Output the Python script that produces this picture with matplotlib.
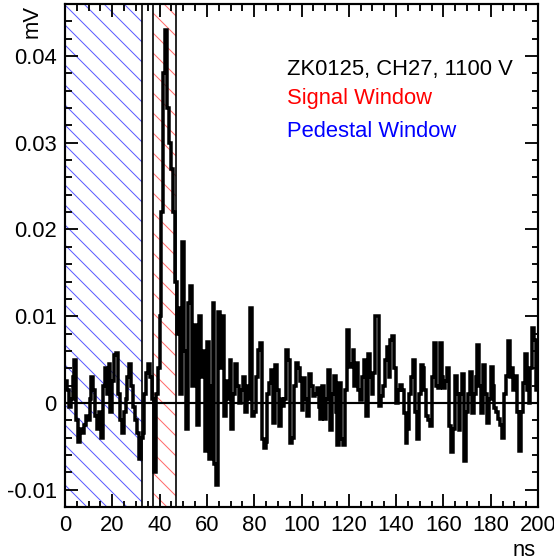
import numpy as np
import matplotlib
matplotlib.use('Agg')
import matplotlib.pyplot as plt
from matplotlib.ticker import MultipleLocator, FuncFormatter

# waveform, 0.8 ns bins, values in units of 1e-3 mV
bin_width = 0.8
trace_0_33 = [2.5, 1.5, -0.5, 0.5, 3.0, 5.0, -2.0, -4.5, -3.0, -3.5,
              -2.5, -1.5, -2.0, 0.5, 3.0, 1.5, -1.5, -3.0, -1.0, -4.0,
              2.0, 4.0, 1.0, 4.5, -1.0, 2.5, 5.5, 5.8, 1.0, -2.0,
              -3.5, -1.0, 0.5, 3.0, 4.5, 2.0, -0.5, -2.0, -3.5, -6.5,
              -4.0]
trace_33_48 = [-3.5, 1.0, 3.5, 4.5, 3.0, 0.5, -8.0, 1.0, 4.0, 10.0,
               22.0, 38.0, 43.0, 34.0, 30.0, 27.0, 22.0, 14.0, 8.0]
trace_48_80 = [11.0, 1.0, 18.5, 6.0, -3.0, 11.5, 13.5, 2.0, 9.0, 5.0,
               -2.5, 10.0, 3.0, 6.0, -5.5, 7.0, -6.5, 2.0, 11.5, -7.0,
               -9.5, 10.5, 4.0, 10.0, -1.5, 2.5, 0.5, 5.0, -3.0, 1.0,
               4.5, 2.0, 0.0, 1.5, 3.0, -1.0, 2.0, 0.5, 11.0, -1.5]
trace_80_200 = [-1.1, 3.0, 6.1, 6.9, -4.2, -5.2, -4.5, 1.0, 2.3, 3.8,
                -2.3, 4.4, 1.5, -2.7, 0.5, -0.3, 0.5, 6.1, 5.0, -4.6,
                -4.0, 2.0, 4.6, 4.0, 2.5, -0.8, 2.9, 0.5, -1.5, 3.3,
                2.0, 0.8, 1.0, 1.7, -0.5, -1.9, 2.0, -1.9, 0.5, 3.8,
                -3.1, 1.0, 3.1, -1.0, -4.8, 2.3, -4.2, -4.8, 1.5, 8.4,
                4.2, 4.5, 6.1, 2.0, 4.6, 1.5, 0.3, 3.0, 5.0, -1.5,
                5.6, 3.0, 1.0, 3.5, 10.0, 10.0, -0.4, 0.8, 2.0, 5.0,
                6.5, 3.0, 7.3, 7.7, 4.0, 0.0, 1.5, 2.1, 1.5, -1.2,
                -4.6, -3.0, 1.0, 3.0, 5.0, -1.0, -4.2, 1.0, 4.4, 4.0,
                1.5, -1.5, -2.0, -2.7, 3.0, 6.9, 2.0, 1.7, 6.9, 3.0,
                1.7, 2.5, 4.0, -2.7, -5.7, -3.0, 3.1, 1.0, -3.1, 1.0,
                3.3, -6.7, -1.0, 1.0, 3.6, -1.2, 1.0, 3.0, 6.7, 2.0,
                -1.2, 4.4, 1.0, -2.3, 0.5, 4.2, 2.0, -0.6, -1.0, -1.9,
                -2.5, -4.0, 1.0, 3.1, 7.1, 3.0, 4.0, 1.5, 3.1, -1.0,
                -5.6, -1.0, 2.3, 5.6, 1.5, 0.0, 4.0, 8.6, 7.3, 1.5]

pedestal_window = (0.0, 32.5)
signal_window = (37.0, 47.0)
labels = ["ZK0125, CH27, 1100 V", "Signal Window", "Pedestal Window"]

values = np.array(trace_0_33 + trace_33_48 + trace_48_80 + trace_80_200) * 1e-3
edges = np.arange(len(values) + 1) * bin_width

plt.rcParams['font.family'] = ['Liberation Sans', 'DejaVu Sans']
plt.rcParams['hatch.linewidth'] = 0.6

fig = plt.figure(figsize=(554 / 120, 560 / 120), dpi=120)
ax = fig.add_axes([65 / 554, 1 - 507 / 560, 473 / 554, 503 / 560])

# hatched windows
ax.axvspan(*pedestal_window, facecolor='none', edgecolor='#5a5aff',
           hatch='\\\\', linewidth=0, zorder=1)
ax.axvspan(*signal_window, facecolor='none', edgecolor='#ff6a6a',
           hatch='\\\\', linewidth=0, zorder=1)
for xv in (pedestal_window[1], signal_window[0], signal_window[1]):
    ax.axvline(xv, color='black', linewidth=1.0, zorder=2)

ax.axhline(0, color='black', linewidth=1.3, zorder=2)
ax.stairs(values, edges, baseline=None, color='black', linewidth=2.1, zorder=3)

ax.set_xlim(0, 200)
ax.set_ylim(-0.012, 0.046)

ax.xaxis.set_major_locator(MultipleLocator(20))
ax.xaxis.set_minor_locator(MultipleLocator(5))
ax.yaxis.set_major_locator(MultipleLocator(0.01))
ax.yaxis.set_minor_locator(MultipleLocator(0.002))
ax.yaxis.set_major_formatter(FuncFormatter(lambda v, p: '%g' % round(v, 4)))

ax.tick_params(which='both', direction='in', top=True, right=True,
               width=1.1, labelsize=13.2)
ax.tick_params(which='major', length=7.8, pad=5)
ax.tick_params(which='minor', length=3.9)
for s in ax.spines.values():
    s.set_linewidth(1.3)

fig.text(32 / 554, 1 - 5 / 560, 'mV', rotation=90, ha='center', va='top', fontsize=13.2)
fig.text(536 / 554, 1 - 540 / 560, 'ns', ha='right', va='top', fontsize=13.2)

for txt, col, base in zip(labels, ['black', 'red', 'blue'], [75, 104, 137]):
    fig.text(287 / 554, 1 - base / 560, txt, color=col, ha='left',
             va='baseline', fontsize=13.2)

fig.savefig('out.png', dpi=120)
